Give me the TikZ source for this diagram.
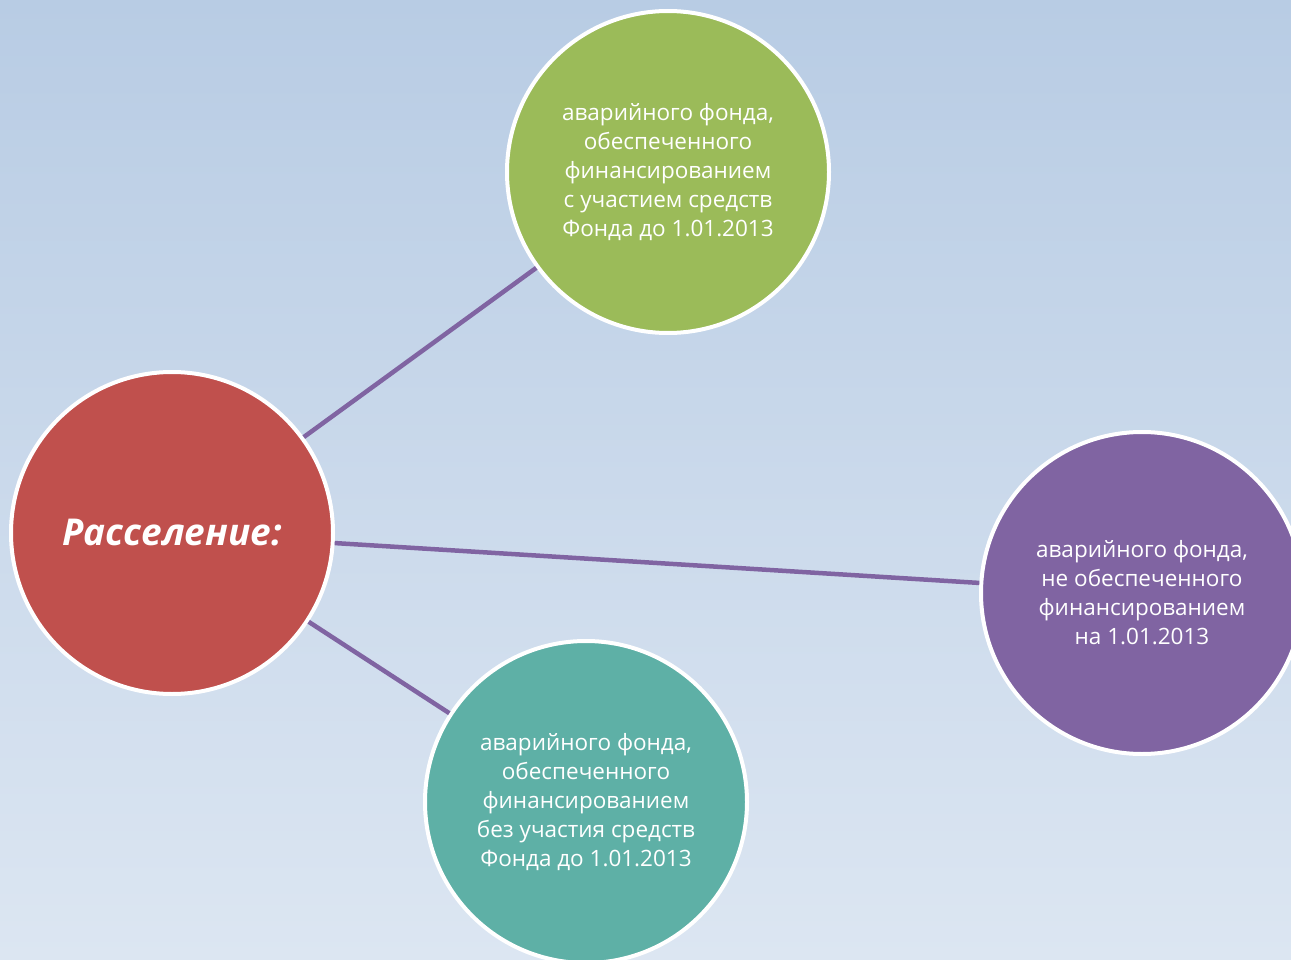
\documentclass[tikz,border=0pt]{standalone}
\usepackage{fontspec}
\setmainfont{Open Sans}
\definecolor{bgtop}{HTML}{B8CCE4}
\definecolor{bgbot}{HTML}{DCE6F2}
\definecolor{cred}{HTML}{C0504D}
\definecolor{cgreen}{HTML}{9BBB59}
\definecolor{cpurple}{HTML}{8064A2}
\definecolor{cteal}{HTML}{5EB0A6}
\tikzset{
  bubble/.style={circle, draw=white, line width=4pt, minimum size=322pt, inner sep=0pt,
    text=white, align=center, font=\fontsize{22.5}{29}\selectfont},
  link/.style={draw=cpurple, line width=4.5pt}
}
\begin{document}
\begin{tikzpicture}[x=1pt,y=-1pt]
\useasboundingbox (0,0) rectangle (1291,960);
\clip (0,0) rectangle (1291,960);
\shade[top color=bgtop, bottom color=bgbot] (0,0) rectangle (1291,960);
\node[bubble, fill=cred, font=\fontsize{37}{44}\selectfont\bfseries\itshape] (r) at (172,533) {Расселение:};
\node[bubble, fill=cgreen] (g) at (668,172) {аварийного фонда,\\обеспеченного\\финансированием\\с участием средств\\Фонда до 1.01.2013};
\node[bubble, fill=cpurple] (p) at (1142,593) {аварийного фонда,\\не обеспеченного\\финансированием\\на 1.01.2013};
\node[bubble, fill=cteal] (t) at (586,802) {аварийного фонда,\\обеспеченного\\финансированием\\без участия средств\\Фонда до 1.01.2013};
\draw[link] (r) -- (g);
\draw[link] (r) -- (p);
\draw[link] (r) -- (t);
\end{tikzpicture}
\end{document}
